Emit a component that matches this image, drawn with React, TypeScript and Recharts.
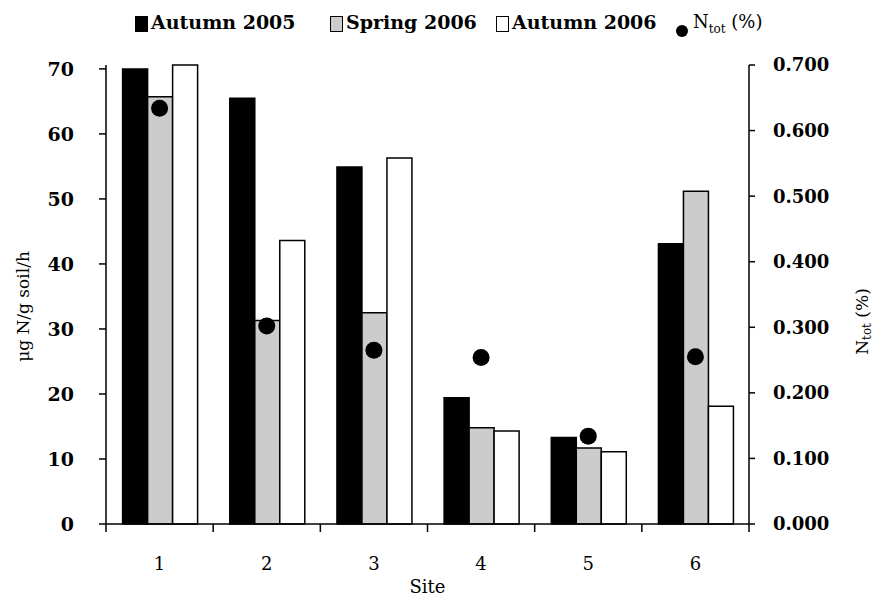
import React from 'react';
import { ComposedChart, Bar, Line, XAxis, YAxis, Label } from 'recharts';

const sites = ['1', '2', '3', '4', '5', '6'];
const autumn2005 = [70.0, 65.5, 54.9, 19.4, 13.3, 43.1];
const spring2006 = [65.7, 31.3, 32.5, 14.8, 11.7, 51.2];
const autumn2006 = [70.6, 43.6, 56.3, 14.3, 11.1, 18.1];
const nTot = [0.634, 0.302, 0.265, 0.254, 0.134, 0.255];

const leftTicks = [0, 10, 20, 30, 40, 50, 60, 70];
const rightTicks = [0, 0.1, 0.2, 0.3, 0.4, 0.5, 0.6, 0.7];

const data = sites.map((site, i) => ({
  site,
  a05: autumn2005[i],
  s06: spring2006[i],
  a06: autumn2006[i],
  ntot: nTot[i],
}));

const FONT = 'DejaVu Serif';
const X_TICK_MARGIN = 33;

const tickBold = { fontFamily: FONT, fontWeight: 'bold', fontSize: 19, fill: '#000' };

// category ticks sit between the groups, labels in the middle
function SiteTick(props: any) {
  const { x, y, payload, index, visibleTicksCount } = props;
  const half = payload.offset ?? 0;
  const axisY = y - X_TICK_MARGIN;
  return (
    <g>
      <line x1={x - half} x2={x - half} y1={axisY} y2={axisY + 8} stroke="#000" strokeWidth={1.5} />
      {index === visibleTicksCount - 1 && (
        <line x1={x + half} x2={x + half} y1={axisY} y2={axisY + 8} stroke="#000" strokeWidth={1.5} />
      )}
      <text x={x} y={y} dy="0.71em" textAnchor="middle" fontFamily={FONT} fontSize={18} fill="#000">
        {payload.value}
      </text>
    </g>
  );
}

function LegendBox({ left, fill, text }: { left: number; fill: string; text: string }) {
  return (
    <div style={{ position: 'absolute', left, top: 12, display: 'flex', alignItems: 'flex-end' }}>
      <div style={{ width: 11, height: 14, background: fill, border: '1.5px solid #000', marginRight: 3, marginBottom: 0 }} />
      <span style={{ fontFamily: FONT, fontWeight: 'bold', fontSize: 19, lineHeight: '20px' }}>{text}</span>
    </div>
  );
}

export default function App() {
  return (
    <div style={{ position: 'absolute', left: 0, top: 0, width: 877, height: 599, background: '#fff' }}>
      <LegendBox left={135} fill="#000" text="Autumn 2005" />
      <LegendBox left={330} fill="#cccccc" text="Spring 2006" />
      <LegendBox left={496} fill="#fff" text="Autumn 2006" />
      <div style={{ position: 'absolute', left: 676, top: 12, display: 'flex', alignItems: 'flex-end' }}>
        <div style={{ width: 12, height: 12, borderRadius: 6, background: '#000', marginRight: 5, marginBottom: 2 }} />
        <span style={{ fontFamily: FONT, fontSize: 18, lineHeight: '20px' }}>
          N<sub style={{ fontSize: 12 }}>tot</sub> (%)
        </span>
      </div>
      <ComposedChart
        width={877}
        height={599}
        data={data}
        margin={{ top: 65, right: 0, bottom: 0, left: 0 }}
        barCategoryGap="15.5%"
        barGap={0}
      >
        <XAxis
          dataKey="site"
          height={75}
          tickLine={false}
          tickSize={0}
          tickMargin={X_TICK_MARGIN}
          axisLine={{ stroke: '#000', strokeWidth: 1.5 }}
          tick={<SiteTick />}
          interval={0}
        >
          <Label
            value="Site"
            position="insideBottom"
            offset={6}
            style={{ fontFamily: FONT, fontSize: 18, fill: '#000' }}
          />
        </XAxis>
        <YAxis
          yAxisId="left"
          width={106}
          domain={[0, 70]}
          ticks={leftTicks}
          interval={0}
          tickSize={7}
          tickMargin={25}
          tick={tickBold}
          axisLine={{ stroke: '#000', strokeWidth: 1.5 }}
          tickLine={{ stroke: '#000', strokeWidth: 1.5 }}
        >
          <Label
            content={({ viewBox }: any) => (
              <text
                x={viewBox.x + 23}
                y={viewBox.y + viewBox.height / 2 + 12}
                transform={`rotate(-90 ${viewBox.x + 23} ${viewBox.y + viewBox.height / 2 + 12})`}
                textAnchor="middle"
                dominantBaseline="central"
                fontFamily={FONT}
                fontSize={17}
                fill="#000"
              >
                μg N/g soil/h
              </text>
            )}
          />
        </YAxis>
        <YAxis
          yAxisId="right"
          orientation="right"
          width={128}
          domain={[0, 0.7]}
          ticks={rightTicks}
          interval={0}
          tickSize={6}
          tickMargin={18}
          tickFormatter={(v: number) => v.toFixed(3)}
          tick={{ ...tickBold, fontSize: 18 }}
          axisLine={{ stroke: '#000', strokeWidth: 1.5 }}
          tickLine={{ stroke: '#000', strokeWidth: 1.5 }}
        >
          <Label
            content={({ viewBox }: any) => {
              const cx = viewBox.x + 113;
              const cy = viewBox.y + viewBox.height / 2 + 27;
              return (
                <text
                  x={cx}
                  y={cy}
                  transform={`rotate(-90 ${cx} ${cy})`}
                  textAnchor="middle"
                  dominantBaseline="central"
                  fontFamily={FONT}
                  fontSize={17}
                  fill="#000"
                >
                  N
                  <tspan fontSize={12} dy={5}>tot</tspan>
                  <tspan dy={-5}> (%)</tspan>
                </text>
              );
            }}
          />
        </YAxis>
        <Bar yAxisId="left" dataKey="a05" fill="#000" stroke="#000" strokeWidth={1.5} isAnimationActive={false} />
        <Bar yAxisId="left" dataKey="s06" fill="#cccccc" stroke="#000" strokeWidth={1.5} isAnimationActive={false} />
        <Bar yAxisId="left" dataKey="a06" fill="#fff" stroke="#000" strokeWidth={1.5} isAnimationActive={false} />
        <Line
          yAxisId="right"
          dataKey="ntot"
          stroke="none"
          dot={{ r: 8.5, fill: '#000', stroke: 'none' }}
          activeDot={false}
          legendType="none"
          isAnimationActive={false}
        />
      </ComposedChart>
    </div>
  );
}
